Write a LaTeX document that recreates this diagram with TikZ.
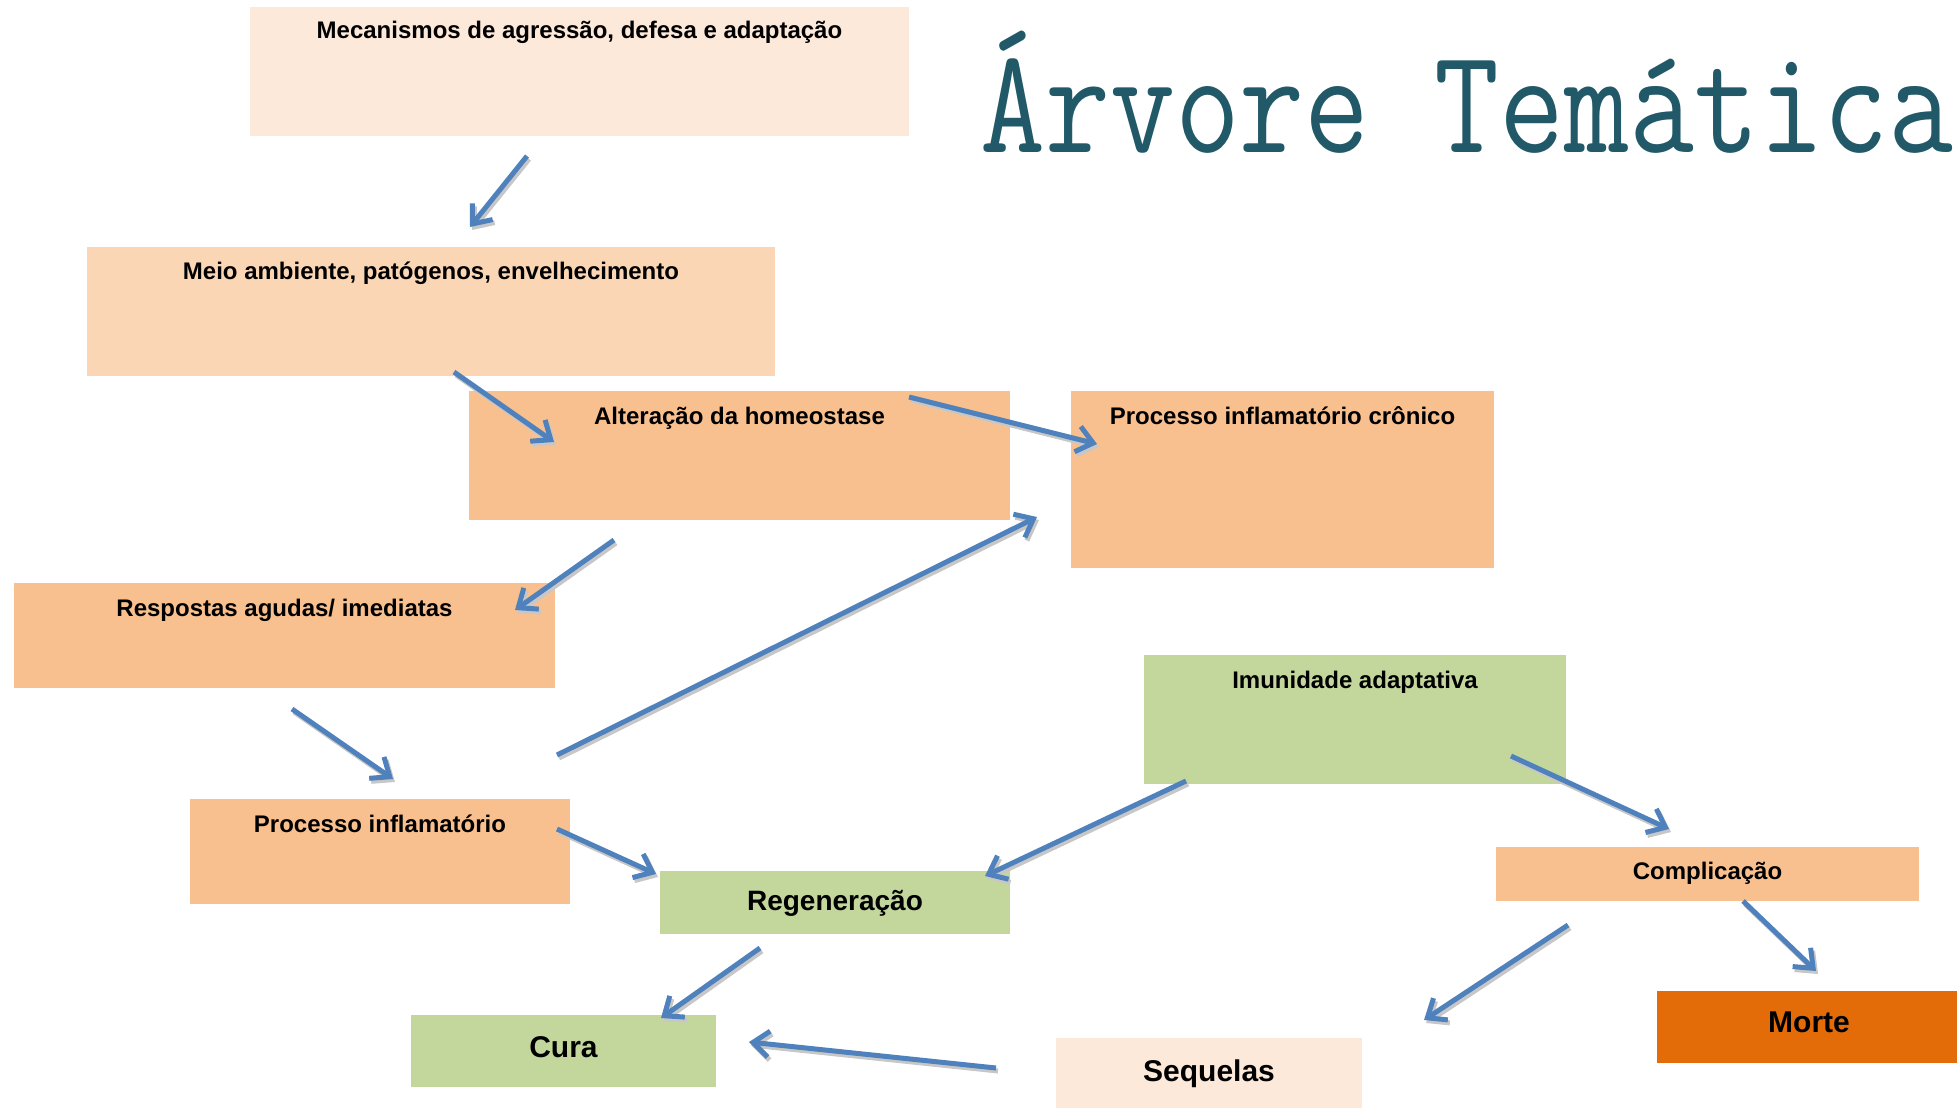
\documentclass[tikz,border=0pt]{standalone}
\usepackage{fontspec}
\setmainfont{Liberation Sans}
\usetikzlibrary{fit,arrows.meta}
\definecolor{peachL}{RGB}{252,233,218}
\definecolor{peachM}{RGB}{250,214,181}
\definecolor{peachD}{RGB}{249,192,143}
\definecolor{greenB}{RGB}{195,214,155}
\definecolor{orangeB}{RGB}{227,108,9}
\definecolor{titleC}{RGB}{33,89,104}
\definecolor{arrowC}{RGB}{79,129,189}
\tikzset{
  box/.style={rectangle,draw=none,inner sep=0pt,fill=#1},
  lbl/.style={anchor=base,font=\bfseries\fontsize{12}{14}\selectfont,inner sep=0pt},
  biglbl/.style={anchor=base,font=\bfseries\fontsize{15}{18}\selectfont,inner sep=0pt},
  arr/.style={draw=arrowC,line width=2.5pt,
    -{Straight Barb[length=8pt,width=13pt]},
    preaction={draw=black!22,line width=2.5pt,-{Straight Barb[length=8pt,width=13pt]},
      transform canvas={shift={(1pt,-1.5pt)}}}}
}
\begin{document}
\begin{tikzpicture}[x=0.5pt,y=-0.5pt]
\useasboundingbox (0,0) rectangle (1957,1108);
% boxes
\node[box=peachL,fit={(250,7)(909,136)}] (b1) {};
\node[box=peachM,fit={(87,247)(775,376)}] (b2) {};
\node[box=peachD,fit={(469,391)(1010,520)}] (b3) {};
\node[box=peachD,fit={(1071,391)(1494,568)}] (b4) {};
\node[box=peachD,fit={(14,583)(555,688)}] (b5) {};
\node[box=greenB,fit={(1144,655)(1566,784)}] (b6) {};
\node[box=peachD,fit={(190,799)(570,904)}] (b7) {};
\node[box=greenB,fit={(660,871)(1010,934)}] (b8) {};
\node[box=peachD,fit={(1496,847)(1919,901)}] (b9) {};
\node[box=greenB,fit={(411,1015)(716,1087)}] (b10) {};
\node[box=peachL,fit={(1056,1038)(1362,1108)}] (b11) {};
\node[box=orangeB,fit={(1657,991)(1957,1063)}] (b12) {};
% labels
\node[lbl] (t1) at (579.5,39) {Mecanismos de agressão, defesa e adaptação};
\node[lbl] (t2) at (431,279) {Meio ambiente, patógenos, envelhecimento};
\node[lbl] (t3) at (739.5,424) {Alteração da homeostase};
\node[lbl] (t4) at (1282.5,424) {Processo inflamatório crônico};
\node[lbl] (t5) at (284.5,616) {Respostas agudas/ imediatas};
\node[lbl] (t6) at (1355,688) {Imunidade adaptativa};
\node[lbl] (t7) at (380,832) {Processo inflamatório};
\node[lbl] (t9) at (1707.5,879) {Complicação};
\node[biglbl,font=\bfseries\fontsize{14}{17}\selectfont] (t8) at (835,910) {Regeneração};
\node[biglbl] (t10) at (563.5,1057) {Cura};
\node[biglbl] (t11) at (1209,1081) {Sequelas};
\node[biglbl] (t12) at (1809,1032) {Morte};
% title
\node[anchor=base,inner sep=0pt,text=titleC,font=\ttfamily\fontsize{75}{80}\selectfont] (title) at (1467,152) {\scalebox{0.84}[1]{Árvore Temática}};
% arrow end points
\coordinate (a1s) at (527,156);  \coordinate (a1e) at (470,227);
\coordinate (a2s) at (454,372);  \coordinate (a2e) at (554,442);
\coordinate (a3s) at (909,397);  \coordinate (a3e) at (1097,444);
\coordinate (a4s) at (614,540);  \coordinate (a4e) at (515,610);
\coordinate (a5s) at (292,709);  \coordinate (a5e) at (393,779);
\coordinate (a6s) at (557,755);  \coordinate (a6e) at (1037,517);
\coordinate (a7s) at (557,829);  \coordinate (a7e) at (656,874);
\coordinate (a8s) at (1186,781); \coordinate (a8e) at (985,876);
\coordinate (a9s) at (1511,756); \coordinate (a9e) at (1669,829);
\coordinate (a10s) at (760,948); \coordinate (a10e) at (661,1018);
\coordinate (a11s) at (996,1068); \coordinate (a11e) at (749,1042);
\coordinate (a12s) at (1568,925); \coordinate (a12e) at (1424,1020);
\coordinate (a13s) at (1743,901); \coordinate (a13e) at (1816,971);
\foreach \i in {1,...,13}{\draw[arr] (a\i s) -- (a\i e);}
\end{tikzpicture}
\end{document}
